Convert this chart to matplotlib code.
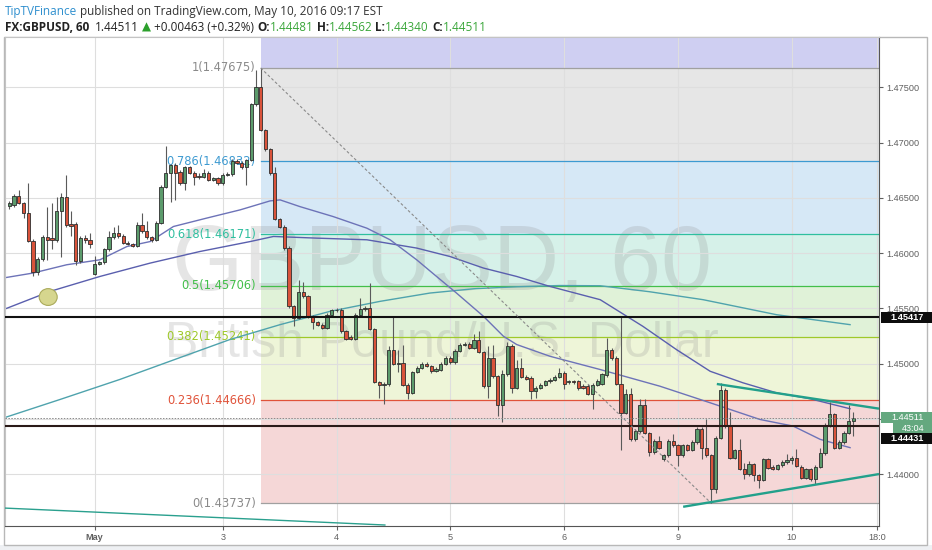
import matplotlib
matplotlib.use('Agg')
import matplotlib.pyplot as plt
import matplotlib.patches as mpatches
import numpy as np

W, H = 932, 550

# ---------------- data ----------------
open_ = [1.46427, 1.46433, 1.46517, 1.46451, 1.46361, 1.46113, 1.45824, 1.45945, 1.46144, 1.46135,
         1.46120, 1.46384, 1.46505, 1.46264, 1.46264, 1.45924, 1.46135, 1.46120, 1.45813, 1.45903,
         1.45915, 1.46036, 1.46144, 1.46180, 1.46156, 1.46095, 1.46084, 1.46068, 1.46255, 1.46195,
         1.46144, 1.46120, 1.46276, 1.46601, 1.46722, 1.46797, 1.46737, 1.46638, 1.46776, 1.46728,
         1.46700, 1.46690, 1.46728, 1.46662, 1.46675, 1.46632, 1.46707, 1.46716, 1.46836, 1.46818,
         1.46776, 1.46842, 1.47348, 1.47499, 1.47113, 1.46939, 1.46722, 1.46307, 1.46240, 1.46045,
         1.45517, 1.45413, 1.45644, 1.45608, 1.45428, 1.45373, 1.45352, 1.45322, 1.45442, 1.45481,
         1.45488, 1.45292, 1.45241, 1.45223, 1.45442, 1.45494, 1.45500, 1.45313, 1.44831, 1.44810,
         1.44819, 1.45120, 1.45000, 1.45006, 1.44810, 1.44735, 1.44921, 1.44961, 1.45000, 1.44976,
         1.44930, 1.44946, 1.44997, 1.45051, 1.45012, 1.45117, 1.45172, 1.45181, 1.45142, 1.45217,
         1.45106, 1.44795, 1.45051, 1.44885, 1.44621, 1.44901, 1.45163, 1.44781, 1.44961, 1.44880,
         1.44871, 1.44750, 1.44781, 1.44810, 1.44840, 1.44850, 1.44880, 1.44916, 1.44831, 1.44840,
         1.44840, 1.44801, 1.44801, 1.44729, 1.44810, 1.44819, 1.44892, 1.45126, 1.45051, 1.44819,
         1.44555, 1.44720, 1.44314, 1.44389, 1.44621, 1.44374, 1.44199, 1.44298, 1.44133, 1.44169,
         1.44298, 1.44260, 1.44169, 1.44260, 1.44217, 1.44289, 1.44410, 1.44239, 1.44169, 1.43869,
         1.44329, 1.44765, 1.44434, 1.44148, 1.44217, 1.44049, 1.43998, 1.44088, 1.43989, 1.43947,
         1.44133, 1.44067, 1.44049, 1.44079, 1.44109, 1.44127, 1.44148, 1.44067, 1.43968, 1.44043,
         1.43953, 1.44067, 1.44187, 1.44440, 1.44540, 1.44239, 1.44289, 1.44374, 1.44481]
high = [1.46470, 1.46530, 1.46571, 1.46460, 1.46631, 1.46125, 1.45960, 1.46160, 1.46421, 1.46451,
        1.46511, 1.46541, 1.46703, 1.46376, 1.46280, 1.46150, 1.46165, 1.46180, 1.45975, 1.45930,
        1.46050, 1.46195, 1.46240, 1.46250, 1.46170, 1.46105, 1.46095, 1.46285, 1.46366, 1.46290,
        1.46155, 1.46290, 1.46615, 1.46969, 1.46810, 1.46815, 1.46750, 1.46790, 1.46790, 1.46740,
        1.46720, 1.46760, 1.46740, 1.46690, 1.46690, 1.46720, 1.46730, 1.46850, 1.46850, 1.46830,
        1.46855, 1.47360, 1.47660, 1.47675, 1.47125, 1.46950, 1.46782, 1.46320, 1.46255, 1.46060,
        1.45530, 1.45758, 1.45740, 1.45620, 1.45440, 1.45385, 1.45365, 1.45455, 1.45495, 1.45500,
        1.45500, 1.45305, 1.45255, 1.45455, 1.45593, 1.45520, 1.45729, 1.45325, 1.44840, 1.44830,
        1.45157, 1.45427, 1.45120, 1.45171, 1.44820, 1.44935, 1.44975, 1.45015, 1.45015, 1.44990,
        1.44965, 1.45010, 1.45065, 1.45065, 1.45130, 1.45185, 1.45195, 1.45195, 1.45271, 1.45292,
        1.45118, 1.45157, 1.45171, 1.44900, 1.44946, 1.45193, 1.45175, 1.45036, 1.45051, 1.44895,
        1.44885, 1.44795, 1.44825, 1.44855, 1.44865, 1.44895, 1.44960, 1.44930, 1.44855, 1.44850,
        1.44855, 1.44815, 1.44815, 1.44825, 1.44860, 1.44915, 1.45232, 1.45140, 1.45065, 1.45424,
        1.44774, 1.44783, 1.44405, 1.44675, 1.44675, 1.44385, 1.44315, 1.44340, 1.44185, 1.44315,
        1.44360, 1.44275, 1.44275, 1.44275, 1.44305, 1.44425, 1.44425, 1.44494, 1.44185, 1.44345,
        1.44825, 1.44780, 1.44560, 1.44230, 1.44314, 1.44103, 1.44118, 1.44100, 1.44000, 1.44145,
        1.44145, 1.44080, 1.44093, 1.44125, 1.44185, 1.44160, 1.44229, 1.44080, 1.44055, 1.44055,
        1.44080, 1.44240, 1.44465, 1.44648, 1.44555, 1.44305, 1.44390, 1.44621, 1.44562]
low = [1.46400, 1.46420, 1.46440, 1.46318, 1.46100, 1.45788, 1.45800, 1.45930, 1.45939, 1.46040,
       1.46100, 1.45963, 1.46240, 1.46150, 1.45894, 1.45910, 1.46090, 1.46045, 1.45800, 1.45890,
       1.45900, 1.46020, 1.46130, 1.46140, 1.46080, 1.46070, 1.46055, 1.46055, 1.46180, 1.46130,
       1.46100, 1.46105, 1.46260, 1.46585, 1.46466, 1.46481, 1.46620, 1.46571, 1.46715, 1.46620,
       1.46670, 1.46680, 1.46650, 1.46650, 1.46620, 1.46620, 1.46700, 1.46700, 1.46805, 1.46765,
       1.46617, 1.46830, 1.47330, 1.47100, 1.46925, 1.46710, 1.46295, 1.46225, 1.46030, 1.45500,
       1.45341, 1.45400, 1.45595, 1.45415, 1.45316, 1.45340, 1.45310, 1.45310, 1.45430, 1.45470,
       1.45280, 1.45210, 1.45210, 1.45210, 1.45430, 1.45480, 1.45300, 1.44820, 1.44690, 1.44630,
       1.44800, 1.44990, 1.44925, 1.44800, 1.44675, 1.44720, 1.44910, 1.44950, 1.44965, 1.44915,
       1.44920, 1.44935, 1.44985, 1.45000, 1.45000, 1.45105, 1.45160, 1.45130, 1.45130, 1.45095,
       1.44780, 1.44692, 1.44870, 1.44527, 1.44467, 1.44885, 1.44738, 1.44770, 1.44865, 1.44850,
       1.44675, 1.44690, 1.44770, 1.44798, 1.44828, 1.44838, 1.44868, 1.44770, 1.44815, 1.44815,
       1.44765, 1.44768, 1.44715, 1.44585, 1.44795, 1.44805, 1.44880, 1.45036, 1.44805, 1.44220,
       1.44540, 1.44300, 1.44300, 1.44375, 1.44360, 1.44163, 1.44185, 1.44225, 1.44120, 1.44155,
       1.44245, 1.44073, 1.44155, 1.44205, 1.44205, 1.44275, 1.44133, 1.44155, 1.43737, 1.43833,
       1.44315, 1.44420, 1.44135, 1.44135, 1.44035, 1.43953, 1.43985, 1.43935, 1.43878, 1.43935,
       1.44045, 1.44035, 1.44035, 1.44065, 1.44095, 1.44095, 1.44060, 1.43955, 1.43955, 1.43940,
       1.43908, 1.44055, 1.44175, 1.44428, 1.44225, 1.44225, 1.44275, 1.44360, 1.44340]
close = [1.46451, 1.46517, 1.46451, 1.46361, 1.46113, 1.45824, 1.45945, 1.46144, 1.46120, 1.46120,
         1.46384, 1.46505, 1.46255, 1.46246, 1.45924, 1.46135, 1.46120, 1.46084, 1.45903, 1.45915,
         1.46036, 1.46144, 1.46180, 1.46156, 1.46095, 1.46084, 1.46068, 1.46255, 1.46195, 1.46144,
         1.46120, 1.46276, 1.46601, 1.46722, 1.46797, 1.46728, 1.46638, 1.46776, 1.46728, 1.46686,
         1.46690, 1.46728, 1.46662, 1.46675, 1.46632, 1.46707, 1.46716, 1.46836, 1.46818, 1.46776,
         1.46842, 1.47348, 1.47499, 1.47113, 1.46939, 1.46722, 1.46307, 1.46240, 1.46045, 1.45517,
         1.45413, 1.45644, 1.45608, 1.45428, 1.45373, 1.45352, 1.45322, 1.45442, 1.45481, 1.45488,
         1.45292, 1.45223, 1.45223, 1.45442, 1.45494, 1.45500, 1.45313, 1.44831, 1.44810, 1.44819,
         1.45120, 1.45000, 1.45006, 1.44810, 1.44735, 1.44921, 1.44961, 1.45000, 1.44976, 1.44930,
         1.44952, 1.44997, 1.45051, 1.45012, 1.45117, 1.45172, 1.45181, 1.45142, 1.45217, 1.45106,
         1.44795, 1.45051, 1.44885, 1.44621, 1.44901, 1.45163, 1.44781, 1.44961, 1.44880, 1.44862,
         1.44750, 1.44781, 1.44810, 1.44840, 1.44850, 1.44880, 1.44916, 1.44819, 1.44840, 1.44831,
         1.44781, 1.44781, 1.44729, 1.44810, 1.44846, 1.44901, 1.45126, 1.45051, 1.44819, 1.44555,
         1.44720, 1.44314, 1.44389, 1.44621, 1.44374, 1.44199, 1.44298, 1.44239, 1.44169, 1.44298,
         1.44260, 1.44169, 1.44260, 1.44217, 1.44289, 1.44410, 1.44239, 1.44169, 1.43869, 1.44329,
         1.44765, 1.44434, 1.44148, 1.44217, 1.44049, 1.43998, 1.44088, 1.43989, 1.43947, 1.44133,
         1.44058, 1.44049, 1.44079, 1.44109, 1.44127, 1.44148, 1.44073, 1.43968, 1.44043, 1.43953,
         1.44067, 1.44187, 1.44440, 1.44540, 1.44239, 1.44289, 1.44374, 1.44481, 1.44511]

# moving averages (bar index, price)
ma_fast_x = [-0.9, 5.0, 12.1, 19.1, 24.8, 29.7, 34.6, 41.6, 48.7, 55.0, 57.1, 61.3, 68.3, 75.4, 80.3,
             85.9, 90.1, 94.3, 100.0, 104.2, 107.0, 114.0, 124.6, 137.2, 147.8, 158.3, 165.3, 171.0, 177.3]
ma_fast_y = [1.45777, 1.45819, 1.45894, 1.45939, 1.46059, 1.46104, 1.46240, 1.46316, 1.46391, 1.46472,
             1.46481, 1.46420, 1.46330, 1.46225, 1.46120, 1.45939, 1.45788, 1.45638, 1.45427, 1.45247,
             1.45172, 1.45066, 1.44946, 1.44795, 1.44645, 1.44494, 1.44434, 1.44314, 1.44239]
ma_slow_x = [-0.9, 8.6, 19.1, 29.7, 40.2, 50.8, 55.7, 64.8, 75.4, 85.9, 92.9, 100.0, 107.0, 114.0,
             124.6, 133.6, 140.7, 147.8, 154.7, 161.8, 168.9, 177.3]
ma_slow_y = [1.45494, 1.45653, 1.45788, 1.45909, 1.46014, 1.46104, 1.46150, 1.46135, 1.46120, 1.46045,
             1.45969, 1.45864, 1.45788, 1.45698, 1.45578, 1.45337, 1.45126, 1.44930, 1.44826, 1.44735,
             1.44681, 1.44591]
ma_long_x = [-0.9, 10.7, 23.3, 36.0, 46.5, 57.1, 67.6, 78.2, 88.7, 98.0, 107.1, 116.0, 124.6, 135.0,
             146.3, 161.8, 177.3]
ma_long_y = [1.44512, 1.44675, 1.44856, 1.45054, 1.45217, 1.45352, 1.45472, 1.45563, 1.45638, 1.45677,
             1.45695, 1.45706, 1.45704, 1.45650, 1.45578, 1.45442, 1.45352]

# drawings
fib_high, fib_low = 1.47675, 1.43737
fib_high_bar, fib_low_bar = 53, 148
fib_ratios = [1.0, 0.786, 0.618, 0.5, 0.382, 0.236, 0.0]
hlines_black = [1.45417, 1.44431]
last_price = 1.44511
tri_top_x, tri_top_y = [149.2, 183.4], [1.44815, 1.44592]
tri_bot_x, tri_bot_y = [142.1, 183.4], [1.43704, 1.44000]
old_line_x, old_line_y = [-0.9, 79.2], [1.43692, 1.43539]
circle_bar, circle_price = 8.2, 1.45602

day_ticks = [18, 45, 69, 93, 117, 141, 165, 183]
day_labels = ['May', '3', '4', '5', '6', '9', '10', '18:0']
price_ticks = [1.440, 1.445, 1.450, 1.455, 1.460, 1.465, 1.470, 1.475]

# ---------------- figure ----------------
fig = plt.figure(figsize=(W / 100, H / 100), dpi=100)
fig.patch.set_facecolor('white')
fig.patches.append(mpatches.Rectangle((0, 0), 1, 5 / H, transform=fig.transFigure,
                                      facecolor='#eef0f3', edgecolor='none', zorder=-5))
fig.patches.append(mpatches.Rectangle((4 / W, (H - 545) / H), 923 / W, 508 / H, transform=fig.transFigure,
                                      facecolor='none', edgecolor='#b8b8b8', lw=1.0, zorder=-4))

ax = fig.add_axes([5 / W, (H - 526) / H, 874 / W, 489 / H])
YMIN, YMAX = 1.43530, 1.47955
XMIN, XMAX = -0.91, 183.4
ax.set_xlim(XMIN, XMAX)
ax.set_ylim(YMIN, YMAX)
ax.set_facecolor('white')

# fib bands
band_cols = ['#cfcff2', '#e6e6e6', '#d6e8f6', '#d6f1e9', '#e0f2d8', '#eef5d8', '#f5d7d7']
line_cols = ['#a0a0a0', '#3d9ad1', '#2fbf9f', '#43bf4a', '#9fc92a', '#e0533a', '#a0a0a0']
lab_cols = ['#8a8a8a', '#3d9ad1', '#2fbf9f', '#43bf4a', '#9fc92a', '#e0533a', '#8a8a8a']
rng = fib_high - fib_low
levels = [fib_low + r * rng for r in fib_ratios]
tops = [YMAX] + levels[:-1]
for i, lv in enumerate(levels):
    ax.fill_between([fib_high_bar, XMAX], lv, tops[i], color=band_cols[i], lw=0, zorder=1)
for i, (r, lv) in enumerate(zip(fib_ratios, levels)):
    ax.plot([fib_high_bar, XMAX], [lv, lv], color=line_cols[i], lw=0.9, zorder=1.6)
    lab = ('%g' % r) + '(%.5f)' % lv
    ax.annotate(lab, (fib_high_bar, lv), xytext=(-3.5, 0), textcoords='offset points',
                ha='right', va='center', fontsize=8.3, color=lab_cols[i], family='DejaVu Sans', zorder=2)

# watermark
ax.text(0.5, 0.4826, 'GBPUSD, 60', transform=ax.transAxes, ha='center', va='baseline',
        fontsize=66, family='Liberation Sans', color='#8c8c8c', alpha=0.22, zorder=1.3)
ax.text(0.5, 0.3456, 'British Pound/U.S. Dollar', transform=ax.transAxes, ha='center', va='baseline',
        fontsize=36, family='Liberation Sans', color='#8c8c8c', alpha=0.22, zorder=1.3)

# grid / axes
ax.set_axisbelow('line')
ax.grid(True, color='#dedede', lw=0.8)
ax.yaxis.tick_right()
ax.set_yticks(price_ticks)
ax.set_yticklabels(['%.5f' % p for p in price_ticks])
ax.set_xticks(day_ticks)
ax.set_xticklabels(day_labels)
ax.tick_params(axis='both', length=3, width=0.8, color='#606060', labelcolor='#606060',
               labelsize=6.6, pad=2)
for t in ax.get_xticklabels() + ax.get_yticklabels():
    t.set_fontfamily('Liberation Sans')
ax.get_xticklabels()[0].set_fontweight('bold')
for s in ['left', 'top']:
    ax.spines[s].set_color('#c4c4c4')
for s in ['right', 'bottom']:
    ax.spines[s].set_color('#555555')

# moving averages
ax.plot(ma_long_x, ma_long_y, color='#4fa3ad', lw=1.0, zorder=2.5)
ax.plot(ma_slow_x, ma_slow_y, color='#5a5fae', lw=1.0, zorder=2.5)
ax.plot(ma_fast_x, ma_fast_y, color='#6d73b8', lw=1.0, zorder=2.5)

# candles
xb = np.arange(len(close))
o = np.array(open_); c = np.array(close); hi = np.array(high); lo = np.array(low)
up = c >= o
ax.vlines(xb, lo, hi, color='#5a5a5a', lw=0.8, zorder=2.9)
ax.bar(xb, np.abs(c - o), bottom=np.minimum(o, c), width=0.68,
       color=np.where(up, '#5c9b6c', '#d9533b'), edgecolor='#2e2e2e', linewidth=0.6, zorder=3)

# drawings
for lv, col in zip(hlines_black, ['#111111', '#2a1a18']):
    ax.axhline(lv, color=col, lw=1.5, zorder=4)
ax.axhline(last_price, color='#8a8a8a', lw=0.7, ls=(0, (1.5, 1.5)), zorder=4)
ax.plot([fib_high_bar, fib_low_bar], [fib_high, fib_low], color='#8a8a8a', lw=0.8,
        ls=(0, (2.5, 2)), zorder=4)
ax.plot(tri_top_x, tri_top_y, color='#22a08b', lw=1.7, zorder=4, solid_capstyle='butt')
ax.plot(tri_bot_x, tri_bot_y, color='#22a08b', lw=1.7, zorder=4, solid_capstyle='butt')
ax.plot(old_line_x, old_line_y, color='#2aa08e', lw=1.0, zorder=4)
ax.add_patch(mpatches.Ellipse((circle_bar, circle_price), 3.8, 0.00152, facecolor='#d6d68e',
                              edgecolor='#aaaa5a', lw=0.8, zorder=4))

# price-scale labels
pax = fig.add_axes([879 / W, (H - 526) / H, 53 / W, 489 / H])
pax.set_xlim(0, 53)
pax.set_ylim(YMIN, YMAX)
pax.axis('off')
pax.patch.set_visible(False)
ppx = (YMAX - YMIN) / 489.0


def box(price, text, fc, x0, dy_px, bold=True):
    yc = price + dy_px * ppx
    h = 10.5 * ppx
    pax.add_patch(mpatches.Rectangle((x0, yc - h / 2), 53 - x0, h, facecolor=fc, edgecolor='none',
                                     clip_on=False, zorder=5))
    pax.text((x0 + 53) / 2 + 1, yc, text, ha='center', va='center', color='white', fontsize=6.6,
             fontweight='bold' if bold else 'normal', family='Liberation Sans', zorder=6, clip_on=False)


box(hlines_black[0], '%.5f' % hlines_black[0], '#0d0d0d', 2, 0)
box(last_price, '%.5f' % last_price, '#64a87f', 2, 0, bold=False)
box(last_price, '43:04', '#64a87f', 14, -10.5, bold=False)
box(last_price, '%.5f' % hlines_black[1], '#0d0d0d', 2, -21)

# header
renderer = fig.canvas.get_renderer()
HFONT = ['Open Sans', 'DejaVu Sans']


def tw(s, size, weight='normal'):
    t = fig.text(0, 0, s, fontsize=size, fontweight=weight, family=HFONT)
    w = t.get_window_extent(renderer).width
    t.remove()
    return w


def seq(x, y, parts, size):
    sp = tw('x x', size) - tw('xx', size)
    for s, col, wt in parts:
        if s == ' ':
            x += sp
            continue
        t = fig.text(x / W, 1 - y / H, s, color=col, fontsize=size, fontweight=wt, family=HFONT,
                     ha='left', va='baseline')
        x += t.get_window_extent(renderer).width


FS = 8.5
seq(5, 15, [('TipTVFinance', '#2e8fce', 'normal'), (' ', None, None),
            ('published on TradingView.com, May 10, 2016 09:17 EST', '#333333', 'normal')], FS)
G = '#3aa63a'
seq(5, 31, [('FX:GBPUSD, 60', '#222222', 'bold'), (' ', None, None), (' ', None, None),
            ('1.44511', '#222222', 'normal'), (' ', None, None), ('\u25b2', '#2ca02c', 'normal'),
            (' ', None, None), ('+0.00463 (+0.32%)', '#222222', 'normal'), (' ', None, None),
            ('O:', '#222222', 'bold'), ('1.44481', G, 'normal'), (' ', None, None),
            ('H:', '#222222', 'bold'), ('1.44562', G, 'normal'), (' ', None, None),
            ('L:', '#222222', 'bold'), ('1.44340', G, 'normal'), (' ', None, None),
            ('C:', '#222222', 'bold'), ('1.44511', G, 'normal')], FS)

fig.savefig('out.png', dpi=100)
